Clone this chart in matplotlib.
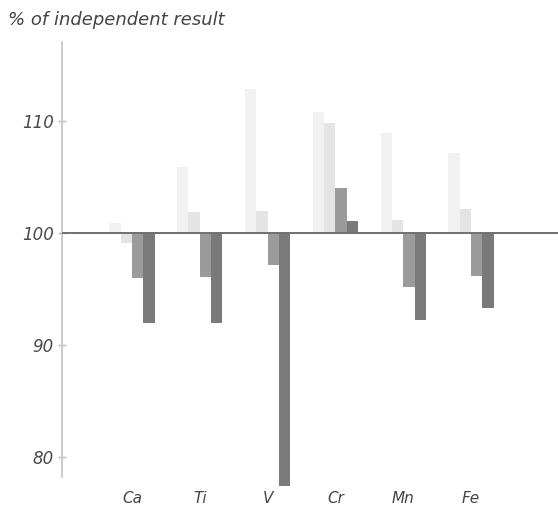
import numpy as np
import matplotlib.pyplot as plt

# Element results as % of the independent determination
elements = ["Ca", "Ti", "V", "Cr", "Mn", "Fe"]
method_a = [100.9, 105.9, 112.9, 110.8, 109.0, 107.2]
method_b = [99.1, 101.9, 102.0, 109.9, 101.2, 102.2]
method_c = [96.0, 96.1, 97.2, 104.0, 95.2, 96.2]
method_d = [92.0, 92.0, 77.4, 101.1, 92.2, 93.3]
yticks = [80, 90, 100, 110]

series = [method_a, method_b, method_c, method_d]
colors = ["#f1f1f1", "#e4e4e4", "#9b9b9b", "#7a7a7a"]

fig = plt.figure(figsize=(5.58, 5.13), dpi=100)
ax = fig.add_axes([62 / 558, 36 / 513, 1 - 62 / 558, 435 / 513])

x = np.arange(len(elements))
w = 0.167
base = 100
for i, (vals, col) in enumerate(zip(series, colors)):
    offs = (i - 1.5) * w
    heights = np.array(vals) - base
    ax.bar(x + offs, heights, width=w, bottom=base, color=col,
           edgecolor="none", zorder=2, clip_on=False)

ax.axhline(base, color="#707070", lw=1.4, zorder=3)

ax.set_xlim(-1.03, 6.28)
ax.set_ylim(78.2, 117.1)

for s in ["top", "right", "bottom"]:
    ax.spines[s].set_visible(False)
ax.spines["left"].set_color("#c4c4c4")
ax.spines["left"].set_linewidth(1.2)

ax.set_yticks(yticks)
ax.set_yticklabels([str(t) for t in yticks], fontsize=12, style="italic",
                   color="#4a4a4a")
ax.tick_params(axis="y", direction="inout", length=6, width=1,
               color="#bbbbbb", pad=3)

ax.set_xticks(x)
ax.set_xticklabels(elements, fontsize=11, style="italic", color="#444444")
ax.tick_params(axis="x", length=0, pad=10)

fig.text(8 / 558, 1 - 20 / 513, "% of independent result", fontsize=13,
         style="italic", color="#444444", va="center", ha="left")

fig.savefig("out.png", dpi=100)
